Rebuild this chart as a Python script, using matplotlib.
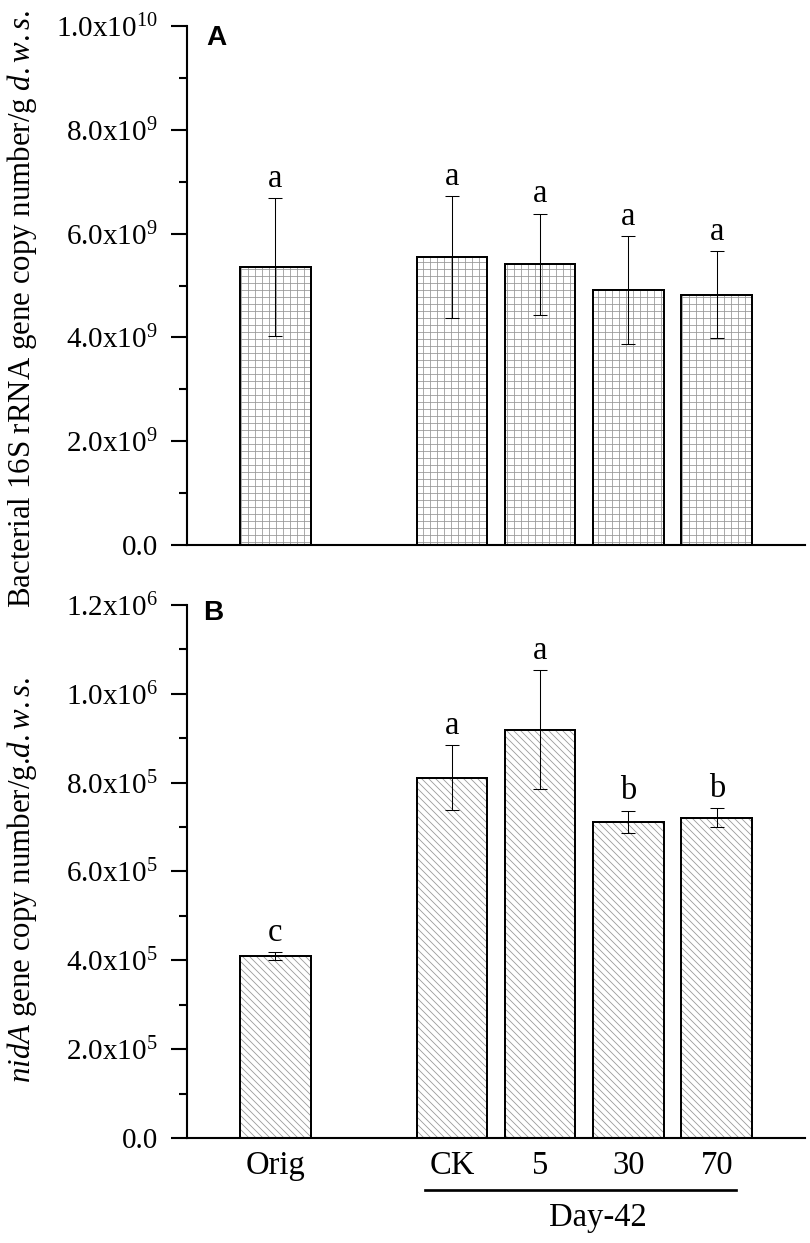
import matplotlib
matplotlib.use('Agg')
import matplotlib.pyplot as plt
import matplotlib.ticker as mticker
import matplotlib.transforms as mtrans
import numpy as np

plt.rcParams['font.family'] = 'Liberation Serif'
plt.rcParams['mathtext.fontset'] = 'custom'
plt.rcParams['mathtext.rm'] = 'Liberation Serif'
plt.rcParams['mathtext.it'] = 'Liberation Serif:italic'
plt.rcParams['hatch.linewidth'] = 0.7

# data
groups = ['Orig', 'CK', '5', '30', '70']
xpos = [0, 2, 3, 4, 5]

bact = [5.35e9, 5.55e9, 5.41e9, 4.91e9, 4.82e9]
bact_err = [1.33e9, 1.17e9, 0.97e9, 1.04e9, 0.84e9]
bact_sig = ['a', 'a', 'a', 'a', 'a']

nida = [4.09e5, 8.11e5, 9.19e5, 7.12e5, 7.21e5]
nida_err = [0.09e5, 0.73e5, 1.34e5, 0.25e5, 0.21e5]
nida_sig = ['c', 'a', 'a', 'b', 'b']

DPI = 84
fig = plt.figure(figsize=(810 / DPI, 1243 / DPI), dpi=DPI)
axA = fig.add_axes([0.2309, 0.5615, 0.7629, 0.4176])
axB = fig.add_axes([0.2309, 0.0845, 0.7629, 0.4288])


def sci(v, pos):
    if abs(v) < 1e-30:
        return '0.0'
    if v < 0:
        return ''
    e = int(np.floor(np.log10(v) + 1e-9))
    m = v / 10 ** e
    return r'$\mathregular{%.1fx10^{%d}}$' % (m, e)


def draw(ax, vals, err, sig, hatch, ymax, step):
    ax.bar(xpos, vals, 0.8, color='white', edgecolor='#9a9a9a', hatch=hatch, linewidth=0)
    ax.bar(xpos, vals, 0.8, fill=False, edgecolor='black', linewidth=1.7)
    ax.errorbar(xpos, vals, yerr=err, fmt='none', ecolor='black',
                elinewidth=0.9, capsize=6, capthick=0.9)
    for x, v, e, s in zip(xpos, vals, err, sig):
        ax.annotate(s, (x, v + e), xytext=(0, 4), textcoords='offset points',
                    ha='center', va='bottom', fontsize=28)
    ax.set_xlim(-1, 6)
    ax.set_ylim(0, ymax)
    ax.yaxis.set_major_locator(mticker.MultipleLocator(step))
    ax.yaxis.set_minor_locator(mticker.MultipleLocator(step / 2))
    ax.yaxis.set_major_formatter(mticker.FuncFormatter(sci))
    for sp in ['top', 'right']:
        ax.spines[sp].set_visible(False)
    for sp in ['left', 'bottom']:
        ax.spines[sp].set_linewidth(1.8)
    ax.tick_params(axis='y', which='major', length=14, width=1.8, labelsize=25, pad=11)
    ax.tick_params(axis='y', which='minor', length=7, width=1.8)
    ax.tick_params(axis='x', length=0, labelsize=28, pad=11)


draw(axA, bact, bact_err, bact_sig, '++', 1.0e10, 2e9)
draw(axB, nida, nida_err, nida_sig, '\\\\\\\\', 1.2e6, 2e5)

axA.set_xticks([])
axB.set_xticks(xpos)
axB.set_xticklabels(groups)

axA.text(0.048, 0.977, 'A', transform=axA.transAxes, ha='center', va='center',
         fontsize=24, fontweight='bold', family='Liberation Sans')
axB.text(0.042, 0.985, 'B', transform=axB.transAxes, ha='center', va='center',
         fontsize=24, fontweight='bold', family='Liberation Sans')

fig.text(0.027, 0.751, r'Bacterial 16S rRNA gene copy number/g $\mathit{d.w.s.}$',
         rotation=90, ha='center', va='center', fontsize=26.5)
fig.text(0.027, 0.292, r'$\mathit{nidA}$ gene copy number/g.$\mathit{d.w.s.}$',
         rotation=90, ha='center', va='center', fontsize=26.5)

# group underline and label
tr = mtrans.blended_transform_factory(axB.transData, axB.transAxes)
axB.plot([1.70, 5.22], [-0.0976, -0.0976], color='black', lw=2.3, transform=tr, clip_on=False)
axB.text(3.65, -0.150, 'Day-42', transform=tr, ha='center', va='center', fontsize=28)

fig.savefig('out.png', dpi=DPI)
